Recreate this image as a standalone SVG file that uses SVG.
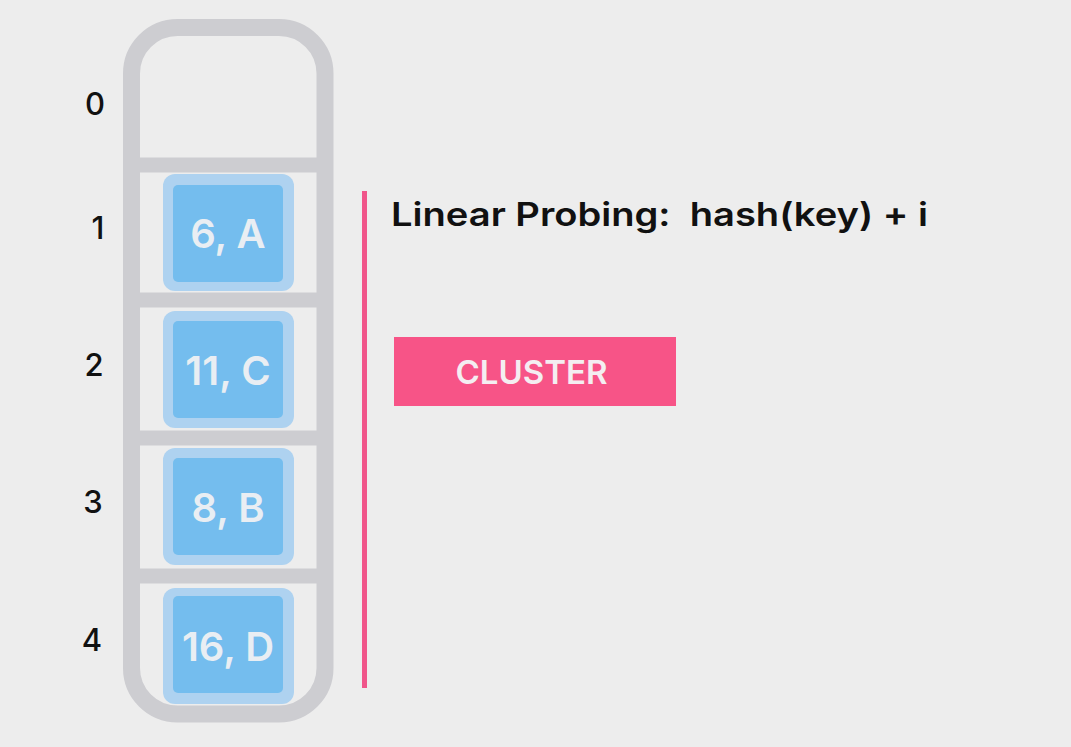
<svg xmlns="http://www.w3.org/2000/svg" width="1071" height="747" viewBox="0 0 1071 747">
<style>
.idx{font-family:"Inter","Noto Sans",sans-serif;font-size:31px;font-weight:500;fill:#111;text-anchor:middle}
.cellouter{fill:#aed2f0}
.cellinner{fill:#74bdee}
.celltxt{font-family:"Inter","Noto Sans",sans-serif;font-size:40px;font-weight:600;fill:#e9eef3;text-anchor:middle}
.frame{fill:none;stroke:#cdcdd1;stroke-width:17}
.div{stroke:#cdcdd1;stroke-width:15}
</style>
<rect width="1071" height="747" fill="#ededed"/>
<g id="table">
<rect class="frame" x="131.5" y="27.5" width="193.5" height="686.5" rx="46"/>
<line class="div" x1="140" y1="165" x2="317" y2="165"/>
<line class="div" x1="140" y1="300" x2="317" y2="300"/>
<line class="div" x1="140" y1="438" x2="317" y2="438"/>
<line class="div" x1="140" y1="576" x2="317" y2="576"/>
</g>
<g id="indices">
<text class="idx" x="95" y="115">0</text>
<text class="idx" x="98" y="239">1</text>
<text class="idx" x="94" y="376">2</text>
<text class="idx" x="93" y="513">3</text>
<text class="idx" x="92" y="651">4</text>
</g>
<g id="cell1">
<rect class="cellouter" x="163" y="174" width="131" height="117" rx="12"/>
<rect class="cellinner" x="173" y="185" width="110" height="97" rx="5"/>
<text class="celltxt" x="228" y="248">6, A</text>
</g>
<g id="cell2">
<rect class="cellouter" x="163" y="311" width="131" height="117" rx="12"/>
<rect class="cellinner" x="173" y="321" width="110" height="97" rx="5"/>
<text class="celltxt" x="228" y="385">11, C</text>
</g>
<g id="cell3">
<rect class="cellouter" x="163" y="448" width="131" height="117" rx="12"/>
<rect class="cellinner" x="173" y="458" width="110" height="97" rx="5"/>
<text class="celltxt" x="228" y="522">8, B</text>
</g>
<g id="cell4">
<rect class="cellouter" x="163" y="588" width="131" height="116" rx="12"/>
<rect class="cellinner" x="173" y="596" width="110" height="97" rx="5"/>
<text class="celltxt" x="228" y="661">16, D</text>
</g>
<g id="connectors">
<line x1="364.5" y1="191" x2="364.5" y2="688" stroke="#f0558a" stroke-width="5"/>
</g>
<g id="title">
<text x="391" y="226" font-family="Inter, 'Noto Sans', sans-serif" font-size="33" font-weight="600" fill="#111" textLength="537" lengthAdjust="spacingAndGlyphs" xml:space="preserve">Linear Probing:  hash(key) + i</text>
</g>
<g id="cluster">
<rect x="394" y="337" width="282" height="69" fill="#f75487"/>
<text x="531.5" y="384" font-family="Inter, 'Noto Sans', sans-serif" font-size="33" font-weight="600" fill="#f4eef1" text-anchor="middle">CLUSTER</text>
</g>
</svg>
